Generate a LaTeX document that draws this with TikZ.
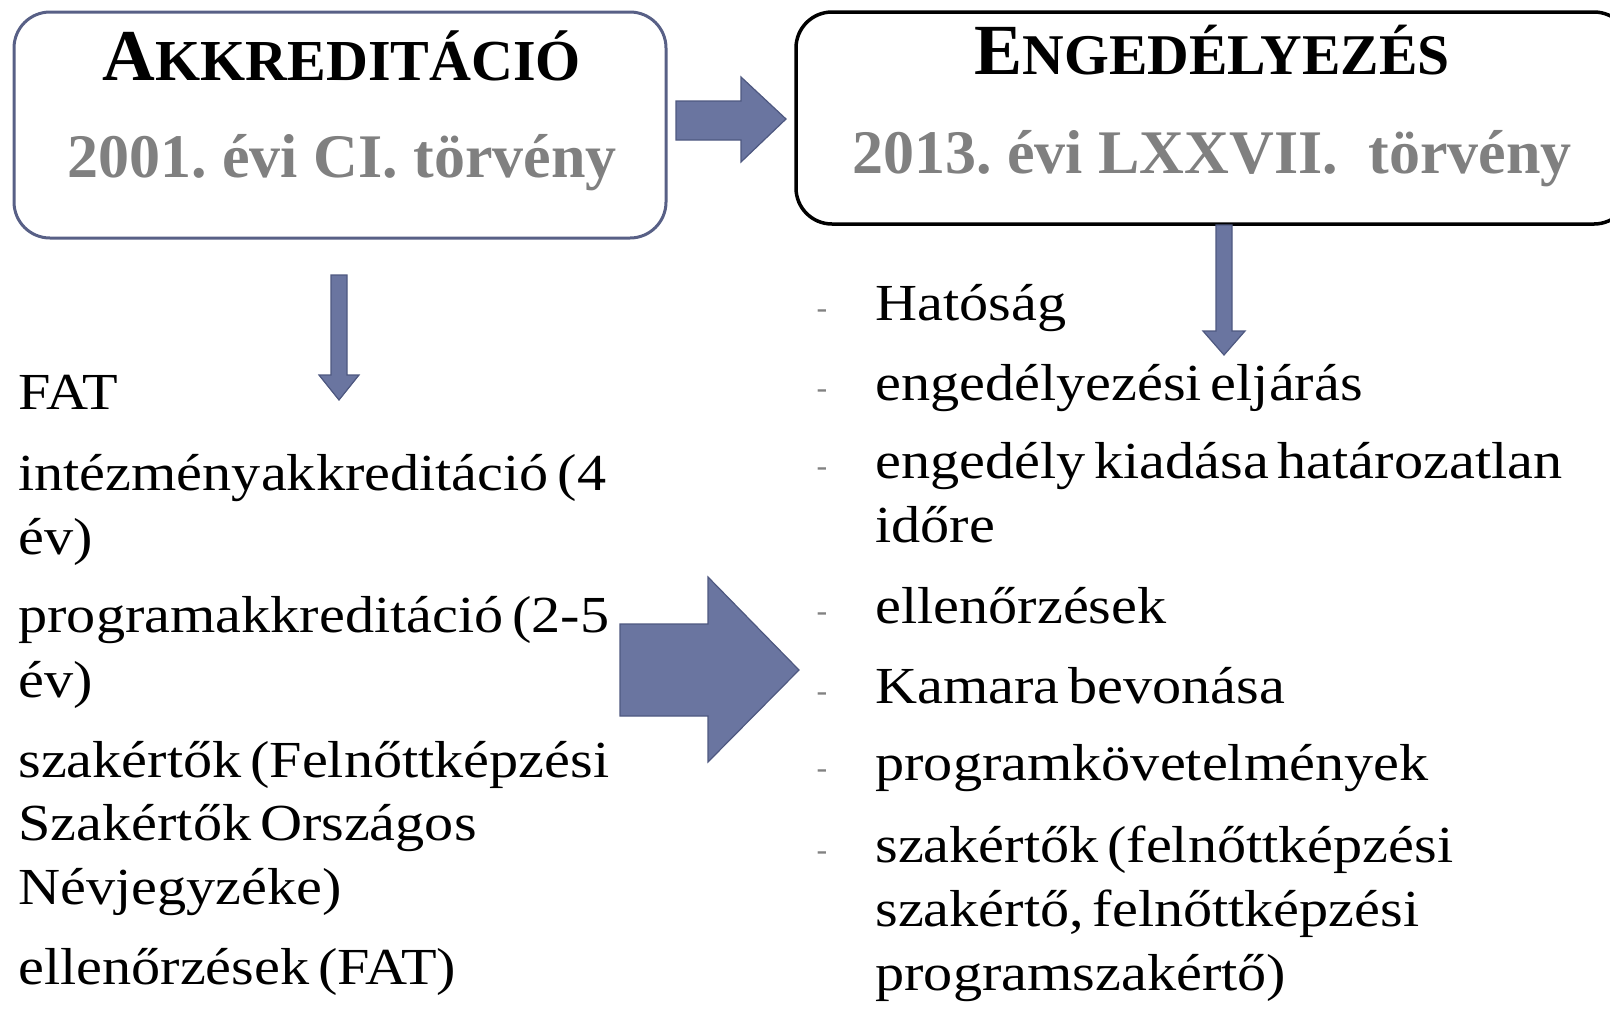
\documentclass[tikz,border=0pt]{standalone}
\usepackage{fontspec}
\setmainfont{Liberation Serif}
\newfontfamily\bodyfont[FakeStretch=1.12, WordSpace=0.6]{Liberation Serif}
\definecolor{arrowfill}{RGB}{106,117,160}
\definecolor{arrowline}{RGB}{78,88,128}
\definecolor{boxline}{RGB}{88,96,134}
\definecolor{subgray}{RGB}{128,128,128}
\definecolor{dashgray}{RGB}{130,130,130}
\frenchspacing
\tikzset{
  boxL/.style={draw=boxline, line width=1.5pt, rounded corners=18pt, fill=white},
  boxR/.style={draw=black, line width=1.75pt, rounded corners=18pt, fill=white},
  blockarrow/.style={fill=arrowfill, draw=arrowline, line width=0.6pt, line join=miter},
  titletxt/.style={anchor=base, inner sep=0pt, font=\bfseries},
  subtxt/.style={anchor=base, inner sep=0pt, text=subgray, font=\bfseries\fontsize{31}{36}\selectfont},
  itemtxt/.style={anchor=base west, inner sep=0pt, font=\bodyfont\fontsize{26}{32}\selectfont},
  dashmark/.style={anchor=base, inner sep=0pt, text=dashgray, font=\fontsize{16}{16}\selectfont},
}
\begin{document}
\begin{tikzpicture}[x=0.5pt,y=-0.5pt]
\useasboundingbox (0,0) rectangle (1610,1008);

% boxes
\draw[boxL] (14,12) rectangle (666,238);
\coordinate (boxLc) at (340,125);
\draw[boxR] (796,12) rectangle (1630,224);
\coordinate (boxRc) at (1212,118);

% titles
\node[titletxt] (tA) at (342,80) {{\fontsize{36.5}{36}\selectfont A}\fontsize{29}{29}\selectfont KKREDITÁCIÓ};
\node[subtxt] (sA) at (342,177) {2001. évi CI. törvény};
\node[titletxt] (tE) at (1212,74) {{\fontsize{36}{36}\selectfont E}\fontsize{28.8}{29}\selectfont NGEDÉLYEZÉS};
\node[subtxt] (sE) at (1212,173) {2013. évi LXXVII.\ \ törvény};

% block arrows
\draw[blockarrow] (676,101) -- (741,101) -- (741,77) -- (786,119) -- (741,162) -- (741,140) -- (676,140) -- cycle;
\draw[blockarrow] (331,275) -- (347,275) -- (347,375) -- (359,375) -- (339,400) -- (319,375) -- (331,375) -- cycle;
\draw[blockarrow] (1216,225) -- (1232,225) -- (1232,331) -- (1245,331) -- (1224,355) -- (1203,331) -- (1216,331) -- cycle;
\draw[blockarrow] (620,624) -- (708,624) -- (708,577) -- (799,670) -- (708,762) -- (708,716) -- (620,716) -- cycle;

% left list
\node[itemtxt] (l1) at (18,409) {FAT};
\node[itemtxt] (l2) at (18,490) {intézményakkreditáció (4};
\node[itemtxt] (l3) at (18,554) {év)};
\node[itemtxt] (l4) at (18,632) {programakkreditáció (2-5};
\node[itemtxt] (l5) at (18,697) {év)};
\node[itemtxt] (l6) at (18,777) {szakértők (Felnőttképzési};
\node[itemtxt] (l7) at (18,840) {Szakértők Országos};
\node[itemtxt] (l8) at (18,904) {Névjegyzéke)};
\node[itemtxt] (l9) at (18,984) {ellenőrzések (FAT)};

% right list
\node[dashmark] (d1) at (822,318) {-};
\node[itemtxt] (r1) at (875,320) {Hatóság};
\node[dashmark] (d2) at (822,398) {-};
\node[itemtxt] (r2) at (875,400) {engedélyezési eljárás};
\node[dashmark] (d3) at (822,476) {-};
\node[itemtxt] (r3) at (875,478) {engedély kiadása határozatlan};
\node[itemtxt] (r4) at (875,542) {időre};
\node[dashmark] (d4) at (822,621) {-};
\node[itemtxt] (r5) at (875,623) {ellenőrzések};
\node[dashmark] (d5) at (822,701) {-};
\node[itemtxt] (r6) at (875,703) {Kamara bevonása};
\node[dashmark] (d6) at (822,778) {-};
\node[itemtxt] (r7) at (875,780) {programkövetelmények};
\node[dashmark] (d7) at (822,860) {-};
\node[itemtxt] (r8) at (875,862) {szakértők (felnőttképzési};
\node[itemtxt] (r9) at (875,926) {szakértő, felnőttképzési};
\node[itemtxt] (r10) at (875,990) {programszakértő)};
\end{tikzpicture}
\end{document}
